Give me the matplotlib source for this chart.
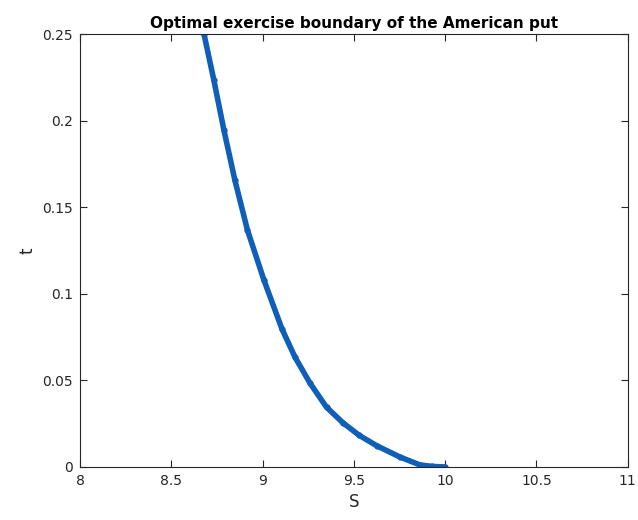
import matplotlib
matplotlib.use("Agg")
import matplotlib.pyplot as plt

# boundary points (S, t)
S = [8.679, 8.733, 8.788, 8.848, 8.917, 9.007, 9.106, 9.177, 9.259,
     9.35, 9.44, 9.53, 9.626, 9.751, 9.861, 9.93, 10.0]
t = [0.25, 0.2234, 0.1946, 0.1657, 0.1368, 0.108, 0.0797, 0.0635, 0.0485,
     0.0345, 0.0255, 0.0182, 0.0122, 0.0058, 0.0012, 0.0003, 0.0]

xticks = [8, 8.5, 9, 9.5, 10, 10.5, 11]
xlabels = ["8", "8.5", "9", "9.5", "10", "10.5", "11"]
yticks = [0, 0.05, 0.1, 0.15, 0.2, 0.25]
ylabels = ["0", "0.05", "0.1", "0.15", "0.2", "0.25"]

fig = plt.figure(figsize=(6.38, 5.2), dpi=100)
ax = fig.add_axes([0.1254, 0.102, 0.8586, 0.8326])

ax.plot(S, t, color="#0f5fb8", lw=4, marker=".", ms=7,
        solid_capstyle="round", solid_joinstyle="round")

ax.set_xlim(8, 11)
ax.set_ylim(0, 0.25)
ax.set_xticks(xticks)
ax.set_xticklabels(xlabels)
ax.set_yticks(yticks)
ax.set_yticklabels(ylabels)

ax.tick_params(direction="in", length=5, width=0.8, colors="#262626",
               labelsize=10, top=True, right=True, pad=5)
for sp in ax.spines.values():
    sp.set_color("#262626")
    sp.set_linewidth(0.8)

ax.set_xlabel("S", fontsize=12, color="#262626")
ax.set_ylabel("t", fontsize=12, color="#262626")
ax.set_title("Optimal exercise boundary of the American put",
             fontsize=11, fontweight="bold", pad=4)

fig.savefig("out.png", dpi=100)
